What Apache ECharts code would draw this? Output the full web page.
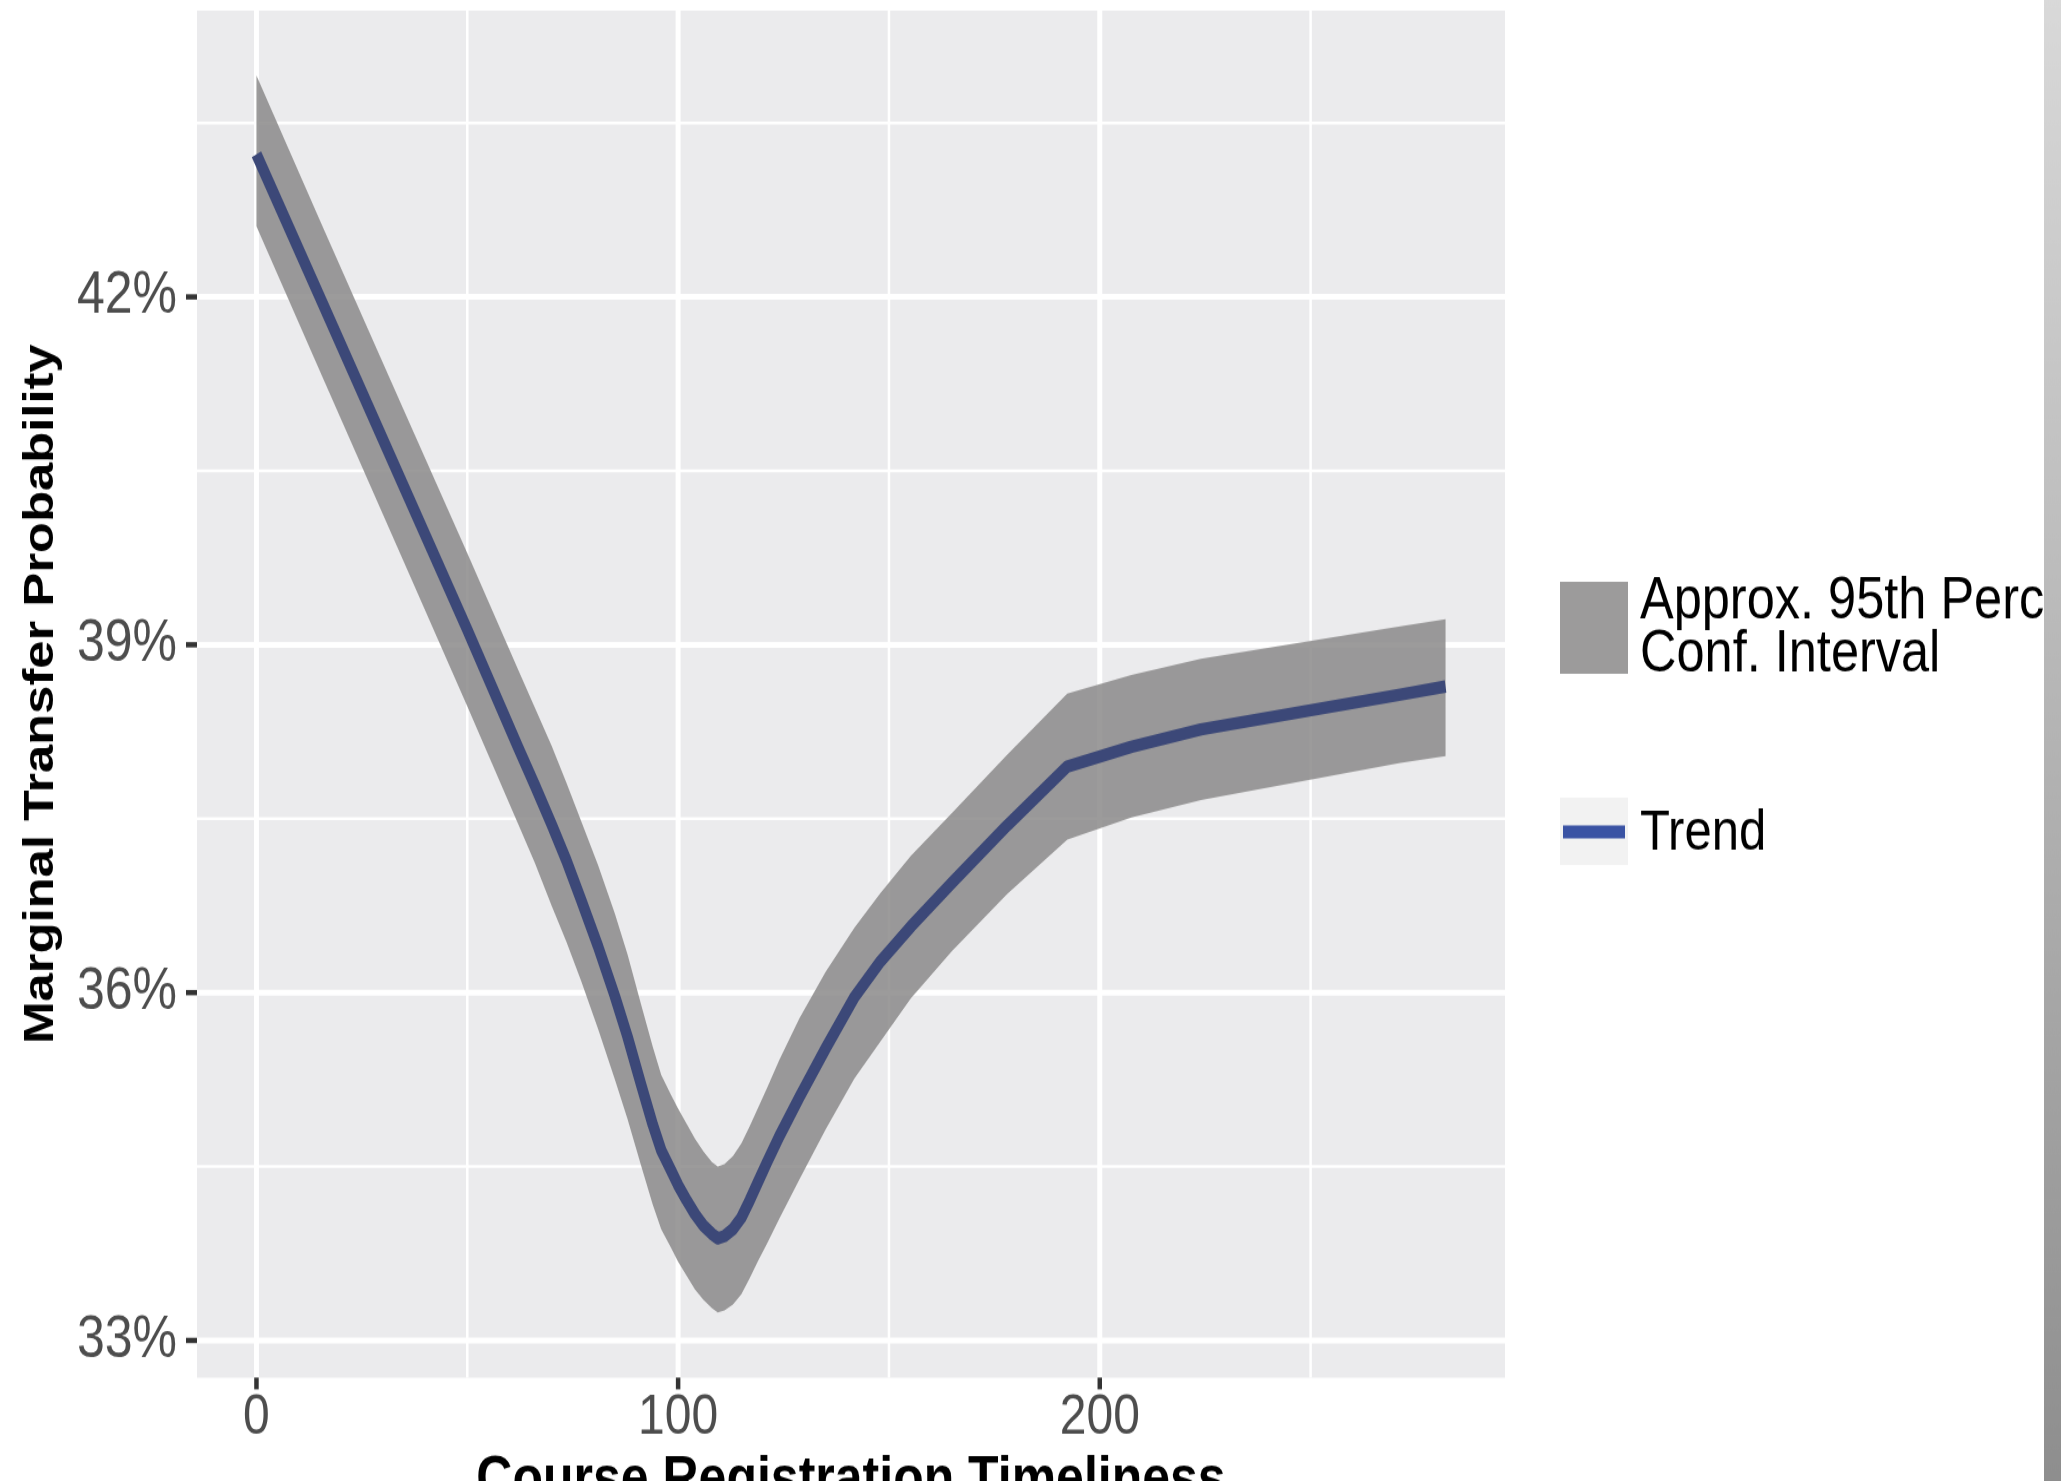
<!DOCTYPE html>
<html>
<head>
<meta charset="utf-8">
<script src="https://cdn.jsdelivr.net/npm/echarts@6/dist/echarts.min.js"></script>
<style>
  html, body { margin: 0; padding: 0; background: #ffffff; overflow: hidden; width: 2061px; height: 1481px; }
  /* the figure is drawn at its natural aspect and stretched vertically */
  #chart { width: 2061px; height: 1255px; transform: scaleY(1.18); transform-origin: 0 0; }
</style>
</head>
<body>
<div id="chart"></div>
<script>
// Course registration timeliness (x) and the fitted marginal transfer probability (%)
const timeliness = [0, 16, 35, 50, 62, 66, 70, 73.5, 77, 81, 85, 88, 91.2, 94, 96, 98.3, 100, 102, 104, 106, 108, 109.4, 111, 113, 115, 117, 119, 121, 124, 128.8, 135, 141.8, 148, 155.2, 165, 178, 192.3, 207.5, 224, 271.3, 282];
const trend      = [43.23, 41.92, 40.36, 39.13, 38.12, 37.79, 37.45, 37.14, 36.80, 36.40, 35.97, 35.62, 35.21, 34.86, 34.64, 34.47, 34.34, 34.21, 34.09, 33.99, 33.92, 33.88, 33.90, 33.96, 34.06, 34.21, 34.37, 34.53, 34.76, 35.10, 35.52, 35.96, 36.27, 36.57, 36.95, 37.44, 37.95, 38.12, 38.27, 38.57, 38.64];
const ciUpper    = [43.91, 42.58, 41.02, 39.79, 38.79, 38.46, 38.13, 37.81, 37.48, 37.10, 36.68, 36.33, 35.90, 35.53, 35.29, 35.12, 35.00, 34.87, 34.74, 34.63, 34.54, 34.50, 34.52, 34.59, 34.70, 34.85, 35.01, 35.17, 35.42, 35.78, 36.18, 36.56, 36.86, 37.18, 37.55, 38.05, 38.58, 38.74, 38.88, 39.16, 39.22];
const ciLower    = [42.61, 41.28, 39.71, 38.47, 37.46, 37.12, 36.75, 36.44, 36.10, 35.69, 35.25, 34.91, 34.51, 34.17, 33.96, 33.80, 33.68, 33.56, 33.44, 33.35, 33.28, 33.24, 33.26, 33.31, 33.40, 33.54, 33.69, 33.83, 34.05, 34.39, 34.82, 35.26, 35.58, 35.95, 36.36, 36.85, 37.32, 37.51, 37.66, 37.98, 38.04];

// axis ticks and panel grid
const xTicks = [0, 100, 200];
const xMinorGrid = [50, 150, 250];
const yTicks = [33, 36, 39, 42];
const yMinorGrid = [34.5, 37.5, 40.5, 43.5];

const bandName = 'Approx. 95th Percentile\nConf. Interval';
const trendName = 'Trend';
const xTitle = 'Course Registration Timeliness';
const yTitle = 'Marginal Transfer Probability';

const X_MIN = -14.1, X_MAX = 296.1;
const Y_MIN = 32.68, Y_MAX = 44.47;

const FONT = '"Liberation Sans", Arial, Helvetica, sans-serif';
const BAND_FILL = 'rgba(139,138,138,0.85)';
const TICK_COLOR = '#333333';

// grid lines: [orientation (0 = horizontal, 1 = vertical), value, major flag];
// major lines also carry the tick mark just outside the panel
const gridRows = []
  .concat(yTicks.map(v => [0, v, 1]))
  .concat(yMinorGrid.map(v => [0, v, 0]))
  .concat(xTicks.map(v => [1, v, 1]))
  .concat(xMinorGrid.map(v => [1, v, 0]));

function renderGridLine(params, api) {
  const orient = api.value(0), v = api.value(1), major = api.value(2);
  const p1 = orient === 0 ? api.coord([X_MIN, v]) : api.coord([v, Y_MIN]);
  const p2 = orient === 0 ? api.coord([X_MAX, v]) : api.coord([v, Y_MAX]);
  const children = [{
    type: 'line',
    shape: { x1: p1[0], y1: p1[1], x2: p2[0], y2: p2[1] },
    style: { stroke: '#ffffff', lineWidth: major ? 5 : 2.5 }
  }];
  if (major) {
    const tick = orient === 0
      ? { x1: p1[0] - 11, y1: p1[1], x2: p1[0], y2: p1[1] }
      : { x1: p1[0], y1: p1[1], x2: p1[0], y2: p1[1] + 10 };
    children.push({ type: 'line', shape: tick, style: { stroke: TICK_COLOR, lineWidth: 4.5 } });
  }
  return { type: 'group', children: children };
}

function renderBand(params, api) {
  if (params.dataIndex !== 0) return null;
  const pts = [];
  for (let i = 0; i < timeliness.length; i++) pts.push(api.coord([timeliness[i], ciUpper[i]]));
  for (let i = timeliness.length - 1; i >= 0; i--) pts.push(api.coord([timeliness[i], ciLower[i]]));
  return { type: 'polygon', shape: { points: pts }, style: { fill: BAND_FILL } };
}

const chart = echarts.init(document.getElementById('chart'), null, { renderer: 'canvas' });

chart.setOption({
  animation: false,
  backgroundColor: '#ffffff',
  grid: {
    left: 197, top: 8.9, width: 1308, height: 1158.5,
    outerBoundsMode: 'none',
    show: true, backgroundColor: '#ebebed', borderWidth: 0
  },
  xAxis: {
    type: 'value', min: X_MIN, max: X_MAX,
    axisLine: { show: false, onZero: false },
    splitLine: { show: false },
    axisTick: { show: false },
    axisLabel: {
      customValues: xTicks, margin: 34, verticalAlign: 'middle',
      color: '#4d4d4d', fontFamily: FONT, fontSize: 48
    },
    name: xTitle, nameLocation: 'middle', nameGap: 80,
    nameTextStyle: { color: '#000000', fontFamily: FONT, fontWeight: 'bold', fontSize: 50, verticalAlign: 'middle' }
  },
  yAxis: {
    type: 'value', min: Y_MIN, max: Y_MAX,
    axisLine: { show: false, onZero: false },
    splitLine: { show: false },
    axisTick: { show: false },
    axisLabel: {
      customValues: yTicks, margin: 20,
      color: '#4d4d4d', fontFamily: FONT, fontSize: 50,
      formatter: v => v + '%'
    },
    name: yTitle, nameLocation: 'middle', nameGap: 156, nameRotate: 90,
    nameTextStyle: { color: '#000000', fontFamily: FONT, fontWeight: 'bold', fontSize: 43, verticalAlign: 'middle', align: 'center' }
  },
  series: [
    {
      name: 'panel grid', type: 'custom', z: 1, silent: true, clip: false,
      renderItem: renderGridLine, data: gridRows, encode: { x: 1, y: 1 }
    },
    {
      name: bandName, type: 'custom', z: 2, silent: true,
      renderItem: renderBand,
      data: timeliness.map((x, i) => [x, ciLower[i], ciUpper[i]]),
      encode: { x: 0, y: [1, 2] }
    },
    {
      name: trendName, type: 'line', z: 3, silent: true,
      data: timeliness.map((x, i) => [x, trend[i]]),
      showSymbol: false, smooth: false,
      lineStyle: { color: '#3c4878', width: 10.5, cap: 'butt', join: 'round' }
    }
  ],
  graphic: [
    // legend: confidence band key
    { type: 'rect', left: 1560, top: 493, shape: { width: 68, height: 78 }, style: { fill: BAND_FILL }, silent: true },
    { type: 'text', x: 1640, y: 533, style: { text: bandName, fill: '#000000', font: '50.5px ' + FONT, lineHeight: 45, verticalAlign: 'middle', align: 'left' }, silent: true },
    // legend: trend key
    { type: 'rect', left: 1560, top: 676, shape: { width: 68, height: 57 }, style: { fill: '#f2f2f2' }, silent: true },
    { type: 'line', shape: { x1: 1563, y1: 705, x2: 1625, y2: 705 }, style: { stroke: '#3a53a4', lineWidth: 11 }, silent: true },
    { type: 'text', x: 1640, y: 706, style: { text: trendName, fill: '#000000', font: '49px ' + FONT, verticalAlign: 'middle', align: 'left' }, silent: true },
    // shaded strip along the right edge
    {
      type: 'rect', left: 2044, top: 0, z: 100, silent: true,
      shape: { width: 17, height: 1255 },
      style: {
        fill: new echarts.graphic.LinearGradient(0, 0, 0, 1, [
          { offset: 0, color: '#d9d9d9' }, { offset: 1, color: '#8e8e8e' }
        ])
      }
    }
  ]
});
</script>
</body>
</html>
